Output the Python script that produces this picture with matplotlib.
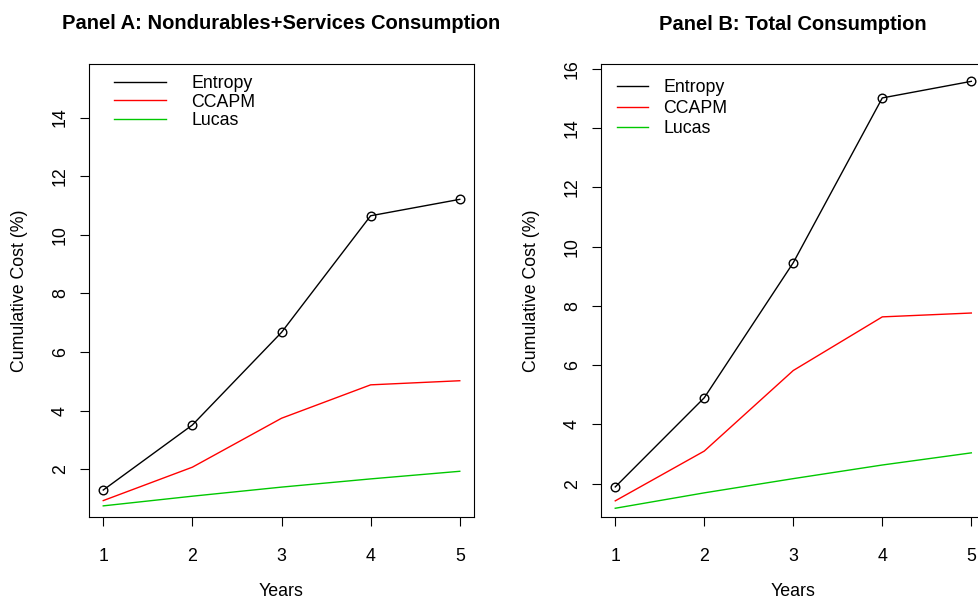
import numpy as np
import matplotlib
matplotlib.use("Agg")
import matplotlib.pyplot as plt

plt.rcParams['font.family'] = ['Liberation Sans', 'DejaVu Sans']

years = [1, 2, 3, 4, 5]

# Panel A: nondurables + services
entropy_a = [1.29, 3.51, 6.67, 10.65, 11.21]
ccapm_a = [0.93, 2.07, 3.74, 4.88, 5.02]
lucas_a = [0.75, 1.08, 1.39, 1.67, 1.93]

# Panel B: total consumption
entropy_b = [1.89, 4.90, 9.46, 15.02, 15.58]
ccapm_b = [1.42, 3.10, 5.82, 7.63, 7.76]
lucas_b = [1.17, 1.69, 2.17, 2.63, 3.04]

yticks_a = [2, 4, 6, 8, 10, 12, 14]
yticks_b = [2, 4, 6, 8, 10, 12, 14, 16]

GREEN = '#00C800'

fig = plt.figure(figsize=(9.79, 5.99), dpi=100)
ax1 = fig.add_axes([0.0909, 0.1369, 0.3933, 0.7563])
ax2 = fig.add_axes([0.6139, 0.1369, 0.3928, 0.7555])


def panel(ax, ent, cc, lu, yticks, ylim, title, leg_kw):
    ax.plot(years, ent, color='black', lw=1.0, label='Entropy')
    ax.plot(years, ent, 'o', color='black', ms=6.2, mfc='none', mew=1.0)
    ax.plot(years, cc, color='red', lw=1.0, label='CCAPM')
    ax.plot(years, lu, color=GREEN, lw=1.0, label='Lucas')
    ax.set_xlim(0.84, 5.16)
    ax.set_ylim(*ylim)
    ax.set_xticks(years)
    ax.set_yticks(yticks)
    ax.tick_params(direction='out', length=6.5, width=0.8, labelsize=12.8)
    ax.tick_params(axis='x', pad=16)
    ax.tick_params(axis='y', pad=8)
    for lab in ax.get_yticklabels():
        lab.set_rotation(90)
        lab.set_va('center')
    for s in ax.spines.values():
        s.set_linewidth(0.8)
    ax.set_xlabel('Years', fontsize=12.8, labelpad=13)
    ax.set_ylabel('Cumulative Cost (%)', fontsize=12.8, labelpad=17)
    ax.set_title(title, fontsize=14.5, fontweight='bold', pad=25)
    ax.legend(frameon=False, fontsize=12.8, loc='upper left', borderaxespad=0,
              borderpad=0, **leg_kw)


panel(ax1, entropy_a, ccapm_a, lucas_a, yticks_a, (0.37, 15.83),
      'Panel A: Nondurables+Services Consumption',
      dict(handlelength=2.9, handletextpad=1.45, labelspacing=0.07,
           bbox_to_anchor=(0.065, 0.975)))
panel(ax2, entropy_b, ccapm_b, lucas_b, yticks_b, (0.875, 16.15),
      'Panel B: Total Consumption',
      dict(handlelength=1.75, handletextpad=0.85, labelspacing=0.2,
           bbox_to_anchor=(0.042, 0.967)))

fig.savefig('out.png', dpi=100)
